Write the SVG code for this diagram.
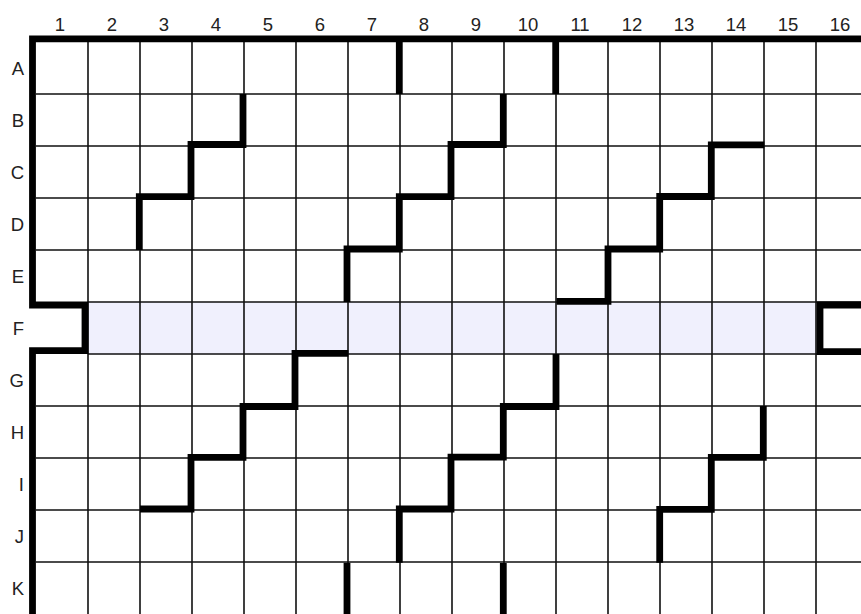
<svg xmlns="http://www.w3.org/2000/svg" width="861" height="614" viewBox="0 0 861 614">
<style>
.thin{stroke:#111;stroke-width:1.6;fill:none}
.wall{stroke:#000;stroke-width:6.8;fill:none;stroke-linejoin:miter;stroke-linecap:butt}
.lbl{font-family:"Liberation Sans",Arial,sans-serif;font-size:18.5px;fill:#222}
.col{text-anchor:middle}
.row{text-anchor:end}
</style>
<rect x="0" y="0" width="861" height="614" fill="#fff"/>
<g id="highlight-row-F">
<rect x="88" y="302" width="728" height="52" fill="#f0f0fd"/>
</g>
<g id="grid">
<path class="thin" d="M88,42V614M140,42V614M192,42V614M244,42V614M296,42V614M348,42V614M400,42V614M452,42V614M504,42V614M556,42V614M608,42V614M660,42V614M712,42V614M764,42V614M816,42V614"/>
<path class="thin" d="M36,94H861M36,146H861M36,198H861M36,250H861M88,302H861M88,354H861M36,406H861M36,458H861M36,510H861M36,562H861"/>
</g>
<g id="walls">
<path class="wall" d="M32.5,614V350.7H85V305H32.5V38.8H861"/>
<path class="wall" d="M861,305H820V351.7H861"/>
<path class="wall" d="M399.3,38V94M555.7,38V94"/>
<path class="wall" d="M243,94V144.5H191V196.7H139.3V250"/>
<path class="wall" d="M503.3,94V144.5H451V196.7H399.3V249H347V302"/>
<path class="wall" d="M764.3,144.8H711.3V196.5H659.7V249H608V301.3H556.5"/>
<path class="wall" d="M348.3,353.3H295V406.5H243V457.3H191V509H140"/>
<path class="wall" d="M556,354V406.5H503.3V457.2H451V509H399.3V562.7"/>
<path class="wall" d="M763.3,406V457.3H711.3V509.3H659.7V562.7"/>
<path class="wall" d="M347,562.7V614M503.3,563V614"/>
</g>
<g id="column-labels" class="lbl col">
<text x="60" y="30.5">1</text>
<text x="112" y="30.5">2</text>
<text x="164" y="30.5">3</text>
<text x="216" y="30.5">4</text>
<text x="268" y="30.5">5</text>
<text x="320" y="30.5">6</text>
<text x="372" y="30.5">7</text>
<text x="424" y="30.5">8</text>
<text x="476" y="30.5">9</text>
<text x="528" y="30.5">10</text>
<text x="580" y="30.5">11</text>
<text x="632" y="30.5">12</text>
<text x="684" y="30.5">13</text>
<text x="736" y="30.5">14</text>
<text x="788" y="30.5">15</text>
<text x="840" y="30.5">16</text>
</g>
<g id="row-labels" class="lbl row">
<text x="24" y="75">A</text>
<text x="24" y="127">B</text>
<text x="24" y="179">C</text>
<text x="24" y="231">D</text>
<text x="24" y="283">E</text>
<text x="24" y="335">F</text>
<text x="24" y="387">G</text>
<text x="24" y="439">H</text>
<text x="24" y="491">I</text>
<text x="24" y="543">J</text>
<text x="24" y="595">K</text>
</g>
</svg>
